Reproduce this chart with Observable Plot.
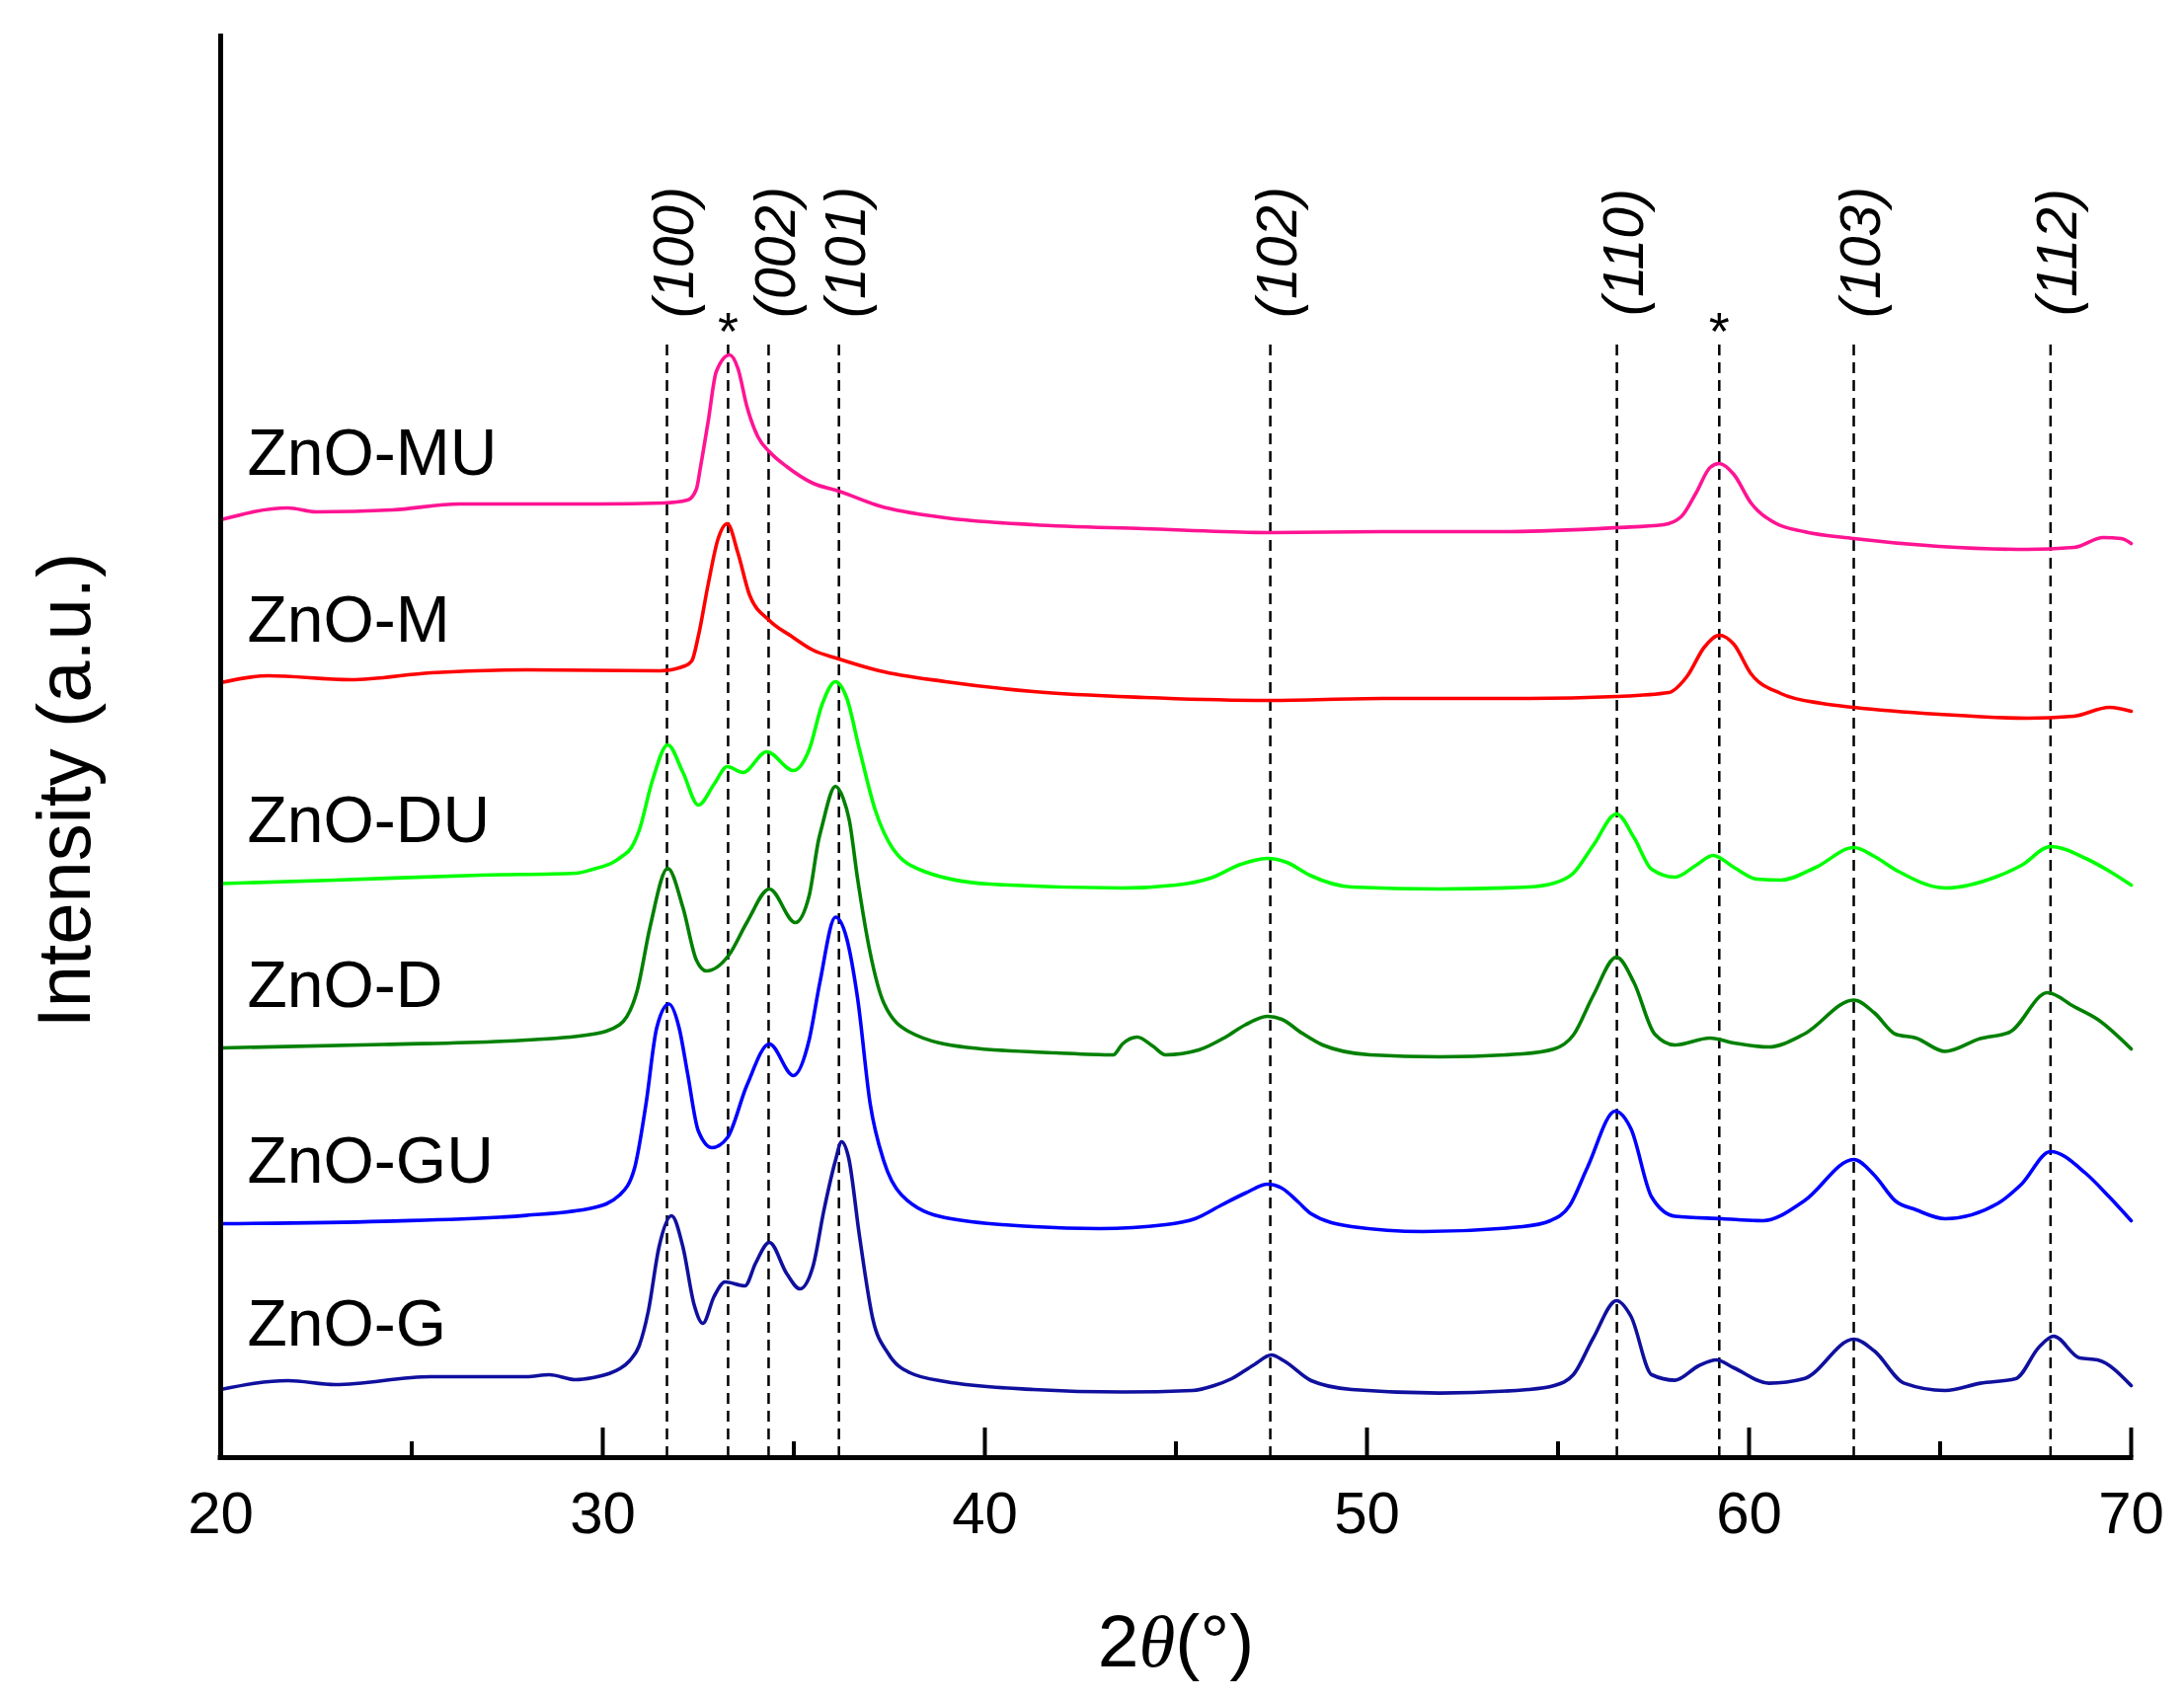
<!DOCTYPE html>
<html>
<head>
<meta charset="utf-8">
<script src="https://cdn.jsdelivr.net/npm/d3@7"></script>
<script src="https://cdn.jsdelivr.net/npm/@observablehq/plot@0.6"></script>
<style>
html, body { margin: 0; padding: 0; background: #fff; }
svg { display: block; }
</style>
</head>
<body>
<div id="chart"></div>
<script>
// ---------------- data (2θ in degrees, stacked intensity in a.u.) ----------------
const seriesNames = ["ZnO-MU", "ZnO-M", "ZnO-DU", "ZnO-D", "ZnO-GU", "ZnO-G"];

const znoMU = [[20,950],[21.76,962],[22.5,958],[24.5,960],[26.25,966],[29.9,966],[31.6,967],[32.22,970],[32.45,981],[32.56,1004],[32.76,1050],[32.97,1100],[33.32,1117],[33.54,1103],[33.77,1065],[34.06,1034],[34.36,1019],[34.81,1004],[35.5,987],[36.18,979],[37.24,964],[38.97,952],[41.27,945],[44.16,941],[47.47,937],[50.39,938],[53.76,938],[56.53,942],[57.76,945],[58.22,953],[58.61,977],[58.98,1003],[59.22,1007],[59.6,996],[60.05,967],[60.67,947],[61.44,938],[62.74,931],[64.97,923],[67.28,920],[68.5,922],[69.27,932],[69.74,931],[70,926]];

const znoM = [[20,785],[21.25,792],[23.4,788],[25.5,795],[28,798],[31.5,797],[32.15,802],[32.33,807],[32.5,832],[32.76,885],[33.02,931],[33.26,946],[33.54,916],[33.84,874],[34.36,848],[34.94,832],[35.5,818],[36.18,809],[37.24,797],[38.97,786],[41.27,776],[44.16,770],[47.47,767],[50.39,769],[54.22,769],[56.53,771],[57.9,775],[58.37,791],[58.83,821],[59.22,833],[59.6,824],[60.05,794],[60.83,774],[61.9,764],[62.74,760],[64.97,753],[67.28,749],[68.5,751],[69.43,760],[70,756]];

const znoDU = [[20,581.5],[23,585],[26.8,590],[29.3,592],[29.74,596],[30.27,603],[30.5,609],[30.75,618],[30.95,635],[31.3,686],[31.7,722],[32.1,694],[32.5,661],[32.91,682],[33.26,700],[33.67,694],[34.29,715],[34.99,696],[35.4,717],[35.74,763],[36.09,786],[36.38,770],[36.72,717],[37.13,656],[37.59,617],[38.4,594],[40.13,581],[43.6,577],[45.0,580],[45.9,587],[46.7,601],[47.4,607],[47.9,603],[48.5,590],[49.6,578],[51.9,576],[54.22,578],[54.9,582],[55.4,592],[55.92,620],[56.53,652],[56.99,628],[57.45,596],[58.06,588],[58.61,600],[59.06,610],[59.6,598],[60.21,586],[60.83,585],[61.75,598],[62.74,618],[63.28,609],[63.9,594],[65.13,577],[66.51,589],[67.13,600],[67.89,619],[68.81,607],[69.43,594],[70,580]];

const znoD = [[20,415],[24.25,418.5],[28,423],[29.74,429],[30.44,438.5],[30.9,473],[31.24,538],[31.7,597],[32.1,557],[32.45,504],[32.71,493],[33.3,509],[33.77,542],[34.36,576],[35.04,542],[35.4,569],[35.65,626],[35.74,640],[36.09,680],[36.3,667],[36.45,646],[36.67,586],[37.0,511],[37.35,461],[38.04,431],[39.54,415.5],[41.86,410],[43.36,408],[43.6,419],[43.99,426],[44.39,417],[44.73,408],[45.6,413],[46.3,426],[46.82,438.5],[47.4,447],[47.77,444],[48.3,430],[48.84,418],[50.08,408],[51.9,406],[54.07,409],[54.9,414],[55.4,428],[55.92,468],[56.53,507],[56.99,481],[57.53,429],[58.06,418],[58.98,425],[59.6,420],[60.52,416],[61.44,429],[62.74,463.5],[63.28,450.5],[63.83,429],[64.37,425],[65.13,411.5],[66.05,424.5],[66.82,431],[67.81,471],[68.5,457],[69.12,444],[70,414]];

const znoGU = [[20,237],[24.25,239.4],[28,245.4],[29.74,253],[30.44,266],[30.83,293],[31.13,358],[31.41,435],[31.73,459.5],[32.0,435],[32.22,389],[32.5,331],[32.86,314],[33.26,324],[33.77,377],[34.36,419],[34.99,387],[35.4,423],[35.68,481],[36.09,547.5],[36.38,526.5],[36.67,465],[37.0,358],[37.35,301],[37.82,266],[38.97,243],[41.27,234],[43.0,232],[44.73,236],[45.5,242],[46.2,256],[46.82,268],[47.4,277],[47.77,273],[48.2,259],[48.54,247],[49.6,234],[51.46,229],[54.07,234],[54.8,240],[55.3,255],[55.77,294],[56.5,351],[56.91,333],[57.45,264],[58.06,244.5],[59.29,242],[60.37,240],[61.44,260],[62.74,302],[63.28,286],[63.83,260],[64.37,251],[65.13,242],[66.51,257.5],[67.13,277],[67.89,310],[68.81,288],[69.43,264],[70,240]];

const znoG = [[20,69],[21.76,78],[23.0,74],[25.5,82],[28.0,82],[28.6,84],[29.28,79],[29.74,81],[30.15,85],[30.44,90],[30.7,98],[30.95,113],[31.19,148],[31.47,213],[31.8,245],[32.1,213],[32.39,155],[32.62,136],[32.91,163],[33.2,178],[33.72,174],[34.0,197],[34.36,218],[34.82,186],[35.16,171],[35.5,193.5],[35.79,251],[36.09,301],[36.25,320],[36.43,304.5],[36.72,224],[37.07,140],[37.47,105.5],[38.04,86],[38.97,77],[41.27,69],[43.6,66.5],[45.43,68],[46.0,73],[46.46,80],[47.04,94],[47.5,104],[47.83,98],[48.54,78],[49.6,69],[51.9,65.4],[54.22,69],[54.9,73],[55.4,84],[55.92,121],[56.53,159],[56.91,143],[57.45,84],[58.06,78.4],[58.68,93],[59.14,99],[59.6,91],[60.52,75.4],[61.44,80],[62.74,120],[63.28,108],[64.06,75.4],[65.13,68],[66.05,75.4],[66.98,80],[67.59,112],[67.97,123],[68.65,101],[69.12,99],[70,73]];

const seriesValues = [znoMU, znoM, znoDU, znoD, znoGU, znoG];

const peakTheta = [31.68, 34.34, 36.18, 47.47, 56.54, 62.74, 67.89];
const peakLabels = ["(100)", "(002)", "(101)", "(102)", "(110)", "(103)", "(112)"];
const impurityTheta = [33.28, 59.22];

const xTicks = [20, 30, 40, 50, 60, 70];
const xMinorTicks = [25, 35, 45, 55, 65];

const xTitle = "2θ(°)";
const yTitle = "Intensity (a.u.)";

// ---------------- styles ----------------
const seriesColors = ["#FF1493", "#FF0000", "#00FF00", "#008000", "#0000FF", "#10109E"];
const font = "'Liberation Sans', Arial, sans-serif";
const yMax = 1442;          // top of the frame in a.u.
const guideTop = 1131;      // top of dashed guide lines (a.u.)
const hklY = 1221;          // centre of (hkl) labels (a.u.)
const starY = 1123;         // baseline of * markers (a.u.)

// ---------------- table ----------------
const rows = seriesValues.flatMap((vals, i) =>
  vals.map(([theta, intensity]) => ({series: seriesNames[i], theta, intensity})));

const labelRows = seriesNames.map((name, i) => {
  const base = d3.mean(seriesValues[i].filter(d => d[0] < 30), d => d[1]);
  return {name, base};
});

const chart = Plot.plot({
  width: 2212,
  height: 1722,
  marginLeft: 223,
  marginRight: 54,
  marginTop: 34,
  marginBottom: 246,
  style: {fontFamily: font, background: "#fff", overflow: "visible"},
  x: {domain: [20, 70]},
  y: {domain: [0, yMax], axis: null},
  color: {domain: seriesNames, range: seriesColors},
  marks: [
    // dashed guide lines
    Plot.ruleX(peakTheta.concat(impurityTheta), {
      x: d => d, y1: 0, y2: guideTop,
      stroke: "#000", strokeWidth: 2.5, strokeDasharray: "11,7"
    }),
    // patterns
    Plot.line(rows, {
      x: "theta", y: "intensity", z: "series", stroke: "series",
      strokeWidth: 3.6, curve: "monotone-x", strokeLinejoin: "round"
    }),
    // frame: left and bottom axes lines
    Plot.ruleX([20], {stroke: "#000", strokeWidth: 5}),
    Plot.ruleY([0], {stroke: "#000", strokeWidth: 5, strokeLinecap: "square"}),
    // inward ticks
    Plot.ruleX(xTicks, {x: d => d, y1: 0, y2: 30, stroke: "#000", strokeWidth: 4}),
    Plot.ruleX(xMinorTicks, {x: d => d, y1: 0, y2: 16, stroke: "#000", strokeWidth: 4}),
    Plot.axisX(xTicks, {tickSize: 0, tickPadding: 34, fontSize: 60, label: null, tickFormat: d => String(d)}),
    // (hkl) labels
    Plot.text(peakTheta, {
      x: d => d, y: () => hklY, text: (d, i) => peakLabels[i],
      rotate: -90, dx: 8, fontSize: 57, fontStyle: "italic",
      textAnchor: "middle", lineAnchor: "middle", fill: "#000"
    }),
    // impurity markers
    Plot.text(impurityTheta, {
      x: d => d, y: () => starY, text: () => "*",
      fontSize: 54, textAnchor: "middle", lineAnchor: "bottom", fill: "#000"
    }),
    // series labels
    Plot.text(labelRows, {
      x: () => 20, y: "base", text: "name", dx: 27, dy: -35,
      textAnchor: "start", lineAnchor: "bottom", fontSize: 66, fill: "#000"
    }),
    // axis titles
    Plot.text([xTitle], {
      frameAnchor: "bottom", dy: 211, textAnchor: "middle", lineAnchor: "bottom",
      fontSize: 75, fill: "#000"
    }),
    Plot.text([yTitle], {
      frameAnchor: "left", rotate: -90, dx: -157, dy: 45,
      textAnchor: "middle", lineAnchor: "middle", fontSize: 76, fill: "#000"
    })
  ]
});

// italic theta in the x title
d3.select(chart).selectAll("text")
  .filter(function () { return this.textContent === xTitle; })
  .each(function () {
    const t = d3.select(this);
    t.text(null);
    t.append("tspan").text("2");
    t.append("tspan").attr("font-style", "italic").attr("font-family", "'Liberation Serif', 'Times New Roman', serif").text("θ");
    t.append("tspan").text("(°)");
  });

document.getElementById("chart").appendChild(chart);
</script>
</body>
</html>
